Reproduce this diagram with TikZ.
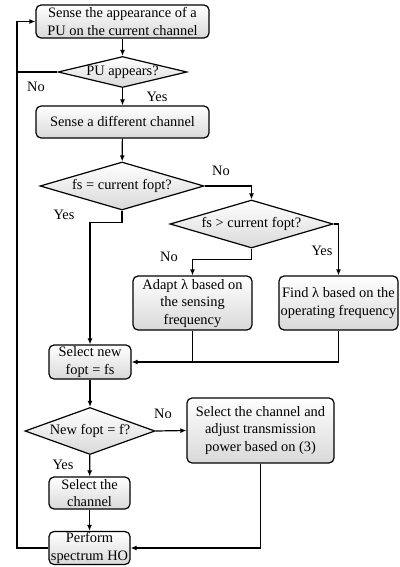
\documentclass[tikz,border=0pt]{standalone}
\usepackage{fontspec}
\setmainfont{Liberation Serif}
\usetikzlibrary{shapes.geometric,arrows.meta}

\tikzset{
  box/.style = {draw, line width = 1.2pt, rounded corners = 5pt, align = center,
    top color = white, bottom color = gray!30, inner sep = 1pt},
  decision/.style = {draw, diamond, line width = 1.2pt, inner sep = 0pt,
    top color = white, bottom color = gray!30},
  arr/.style = {line width = 1.2pt, -{Latex[length = 6pt, width = 5pt]}},
  line/.style = {line width = 1.2pt},
  lbl/.style = {inner sep = 0pt}
}

\begin{document}
\begin{tikzpicture}[x = 1pt, y = -1pt, font = \fontsize{14.4}{17.5}\selectfont]

      \useasboundingbox (0, 0) rectangle (399, 567);

      % blocks
      \node[box, minimum width = 173pt, minimum height = 33pt] (sense) at (122.5, 21.5)
        {Sense the appearance of a\\PU on the current channel};
      \node[decision, minimum width = 129pt, minimum height = 31pt,
        label = center:{PU appears?}] (appear) at (122.5, 72) {};
      \node[box, minimum width = 173pt, minimum height = 32pt] (other) at (122.5, 122)
        {Sense a different channel};
      \node[decision, minimum width = 164pt, minimum height = 48pt,
        label = center:{fs = current fopt?}] (equal) at (122, 186) {};
      \node[decision, minimum width = 163pt, minimum height = 48pt,
        label = center:{fs > current fopt?}] (greater) at (251.5, 224) {};
      \node[box, minimum width = 119pt, minimum height = 54pt] (adapt) at (192.5, 303)
        {Adapt λ based on\\the sensing\\frequency};
      \node[box, minimum width = 119pt, minimum height = 54pt] (find) at (338.5, 303)
        {Find λ based on the\\operating frequency};
      \node[box, minimum width = 82pt, minimum height = 34pt] (newopt) at (90, 362)
        {Select new\\fopt = fs};
      \node[decision, minimum width = 130pt, minimum height = 47pt,
        label = center:{New fopt = f?}] (check) at (90, 431) {};
      \node[box, minimum width = 147pt, minimum height = 65pt] (power) at (260.5, 430.5)
        {Select the channel and\\adjust transmission\\power based on (3)};
      \node[box, minimum width = 81pt, minimum height = 32pt] (select) at (89.5, 493)
        {Select the\\channel};
      \node[box, minimum width = 81pt, minimum height = 33pt] (handoff) at (89.5, 548)
        {Perform\\spectrum HO};

      \coordinate (rail) at (17, 0);

      % connectors
      \draw[arr] (sense) -- (appear);
      \draw[arr] (appear) -- (other);
      \draw[line] (appear.west) -- (appear.west -| rail);
      \draw[arr] (other) -- (equal);
      \draw[arr] (equal.east) -| (greater.north);
      \draw[arr] (equal.south) -- ++(0, 12) -| (newopt.north);
      \draw[arr] (greater.south) -- ++(0, 11) -| (adapt.north);
      \draw[arr] (greater.east) -| (find.north);
      \draw[line] (adapt.south) -- (adapt.south |- newopt.east);
      \draw[arr] (find.south) |- (newopt.east);
      \draw[arr] (newopt) -- (check);
      \draw[arr] (check.east) -- (power.west);
      \draw[arr] (check) -- (select);
      \draw[arr] (select) -- (handoff);
      \draw[arr] (power.south) |- (handoff.east);
      \draw[arr] (handoff.west) -- (handoff.west -| rail) |- (sense.west);

      % branch labels
      \node[lbl] (noA) at (36, 87) {No};
      \node[lbl] (yesA) at (157, 97) {Yes};
      \node[lbl] (noB) at (221, 171) {No};
      \node[lbl] (yesB) at (64, 215) {Yes};
      \node[lbl] (noC) at (169, 257) {No};
      \node[lbl] (yesC) at (322, 251) {Yes};
      \node[lbl] (noD) at (163, 414) {No};
      \node[lbl] (yesD) at (63, 465) {Yes};

    \end{tikzpicture}
\end{document}
